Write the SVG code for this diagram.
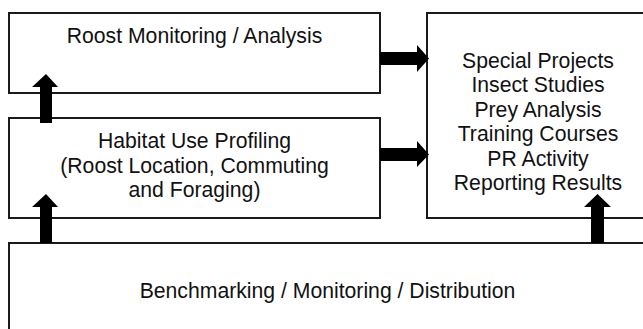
<svg xmlns="http://www.w3.org/2000/svg" width="643" height="329" viewBox="0 0 643 329">
<style>
.box{fill:#fff;stroke:#1a1a1a;stroke-width:2}
.t{font-family:"Liberation Sans",Arial,sans-serif;font-size:21.2px;fill:#111;text-anchor:middle}
.arr{fill:#000}
</style>
<rect width="643" height="329" fill="#fff"/>
<g id="roost"><rect class="box" x="9" y="13" width="371" height="80"/><text class="t" x="194.5" y="43">Roost Monitoring / Analysis</text></g>
<g id="habitat"><rect class="box" x="9" y="118" width="371" height="100"/><text class="t" x="194.5" y="148">Habitat Use Profiling</text><text class="t" x="194.5" y="172.5">(Roost Location, Commuting</text><text class="t" x="194.5" y="197">and Foraging)</text></g>
<g id="special"><rect class="box" x="427" y="13" width="222" height="205"/><text class="t" x="538" y="68">Special Projects</text><text class="t" x="538" y="92.4">Insect Studies</text><text class="t" x="538" y="116.8">Prey Analysis</text><text class="t" x="538" y="141.2">Training Courses</text><text class="t" x="538" y="165.6">PR Activity</text><text class="t" x="538" y="190">Reporting Results</text></g>
<g id="bench"><rect class="box" x="9" y="243" width="640" height="100"/><text class="t" x="327.5" y="298">Benchmarking / Monitoring / Distribution</text></g>
<g id="connectors">
<polygon class="arr" points="40,123 40,87 32,87 46,74 58,87 52,87 52,123"/>
<polygon class="arr" points="40,243 40,207 32,207 46,194 58,207 52,207 52,243"/>
<polygon class="arr" points="591,243 591,207 584,207 597.5,194 611,207 604,207 604,243"/>
<polygon class="arr" points="380,52 417,52 417,45 429,58.5 417,72 417,65 380,65"/>
<polygon class="arr" points="380,148 417,148 417,141 429,154.5 417,167 417,161 380,161"/>
</g>
</svg>
